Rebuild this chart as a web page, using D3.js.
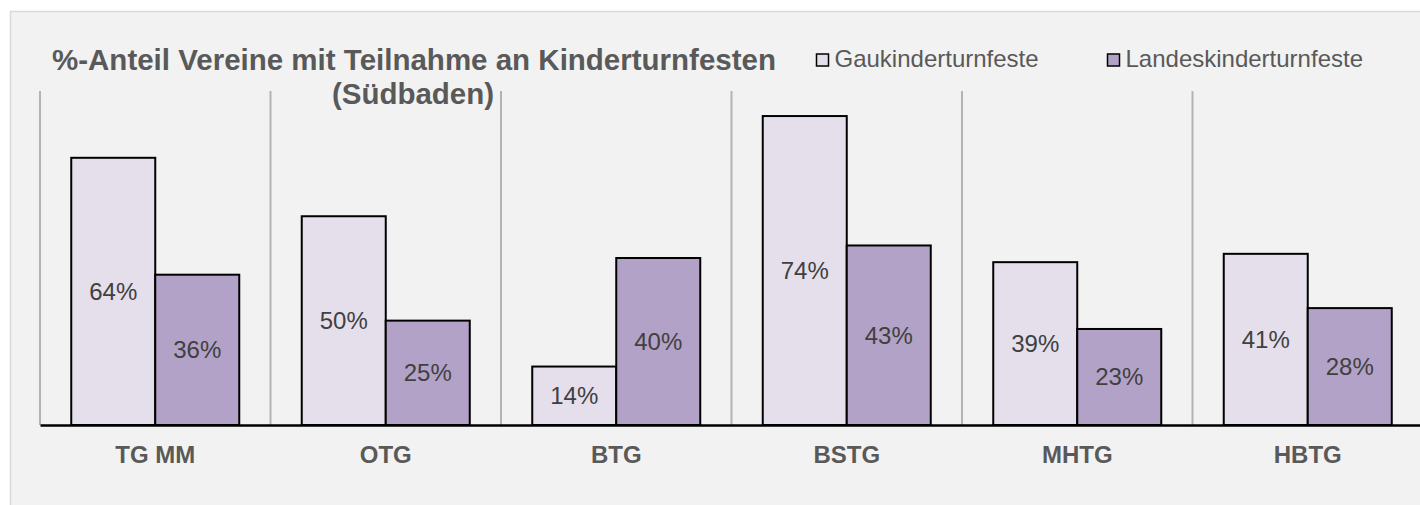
<!DOCTYPE html>
<html>
<head>
    <meta charset="utf-8">
    <title>Kinderturnfeste Südbaden</title>
    <script src="https://cdn.jsdelivr.net/npm/d3@7"></script>
    <style>
        body { margin: 0; background: #ffffff; }
        svg { display: block; }
        .title { font-family: "Liberation Sans", Arial, sans-serif; font-weight: bold; font-size: 29.5px; fill: #595959; }
        .legend text { font-family: "Liberation Sans", Arial, sans-serif; font-size: 24px; fill: #595959; }
        .value { font-family: "Liberation Sans", Arial, sans-serif; font-size: 24px; fill: #404040; }
        .cat { font-family: "Liberation Sans", Arial, sans-serif; font-weight: bold; font-size: 24px; fill: #595959; }
    </style>
</head>
<body>
    <div id="chart"></div>

    <script>
        // data
        var categories = ["TG MM", "OTG", "BTG", "BSTG", "MHTG", "HBTG"];
        var gaukinder = [0.64, 0.50, 0.14, 0.74, 0.39, 0.41];
        var landeskinder = [0.36, 0.25, 0.40, 0.43, 0.23, 0.28];
        var seriesNames = ["Gaukinderturnfeste", "Landeskinderturnfeste"];
        var seriesColors = ["#e5dfec", "#b3a2c7"];

        var width = 1420, height = 505;
        var margin = {top: 91, left: 40, right: -3, bottom: 80};

        var svg = d3.select("#chart").append("svg")
            .attr("width", width)
            .attr("height", height);

        // chart panel
        svg.append("rect")
            .attr("x", 10.5).attr("y", 11.5)
            .attr("width", 1430).attr("height", 520)
            .attr("fill", "#f2f2f2")
            .attr("stroke", "#d9d9d9")
            .attr("stroke-width", 1.5);

        var x0 = d3.scaleBand()
            .domain(categories)
            .range([margin.left, width - margin.right])
            .paddingInner(0)
            .paddingOuter(0);

        var x1 = d3.scaleBand()
            .domain(seriesNames)
            .range([0, x0.bandwidth()])
            .paddingOuter(0.372)
            .paddingInner(0);

        var y = d3.scaleLinear()
            .domain([0, 0.8])
            .range([height - margin.bottom, margin.top]);

        // vertical separators between categories
        var sepX = categories.map(c => x0(c)).concat([x0.range()[1]]);
        svg.append("g").selectAll("line")
            .data(sepX)
            .enter().append("line")
            .attr("x1", d => d).attr("x2", d => d)
            .attr("y1", y(0.8)).attr("y2", y(0))
            .attr("stroke", "#b3b3b3")
            .attr("stroke-width", 2);

        var rows = categories.map((c, i) => ({cat: c, values: [gaukinder[i], landeskinder[i]]}));

        var groups = svg.append("g").selectAll("g")
            .data(rows)
            .enter().append("g")
            .attr("transform", d => "translate(" + x0(d.cat) + ",0)");

        var bars = groups.selectAll("g")
            .data(d => d.values.map((v, j) => ({name: seriesNames[j], value: v, j: j})))
            .enter().append("g");

        bars.append("rect")
            .attr("x", d => x1(d.name))
            .attr("y", d => y(d.value))
            .attr("width", x1.bandwidth())
            .attr("height", d => y(0) - y(d.value))
            .attr("fill", d => seriesColors[d.j])
            .attr("stroke", "#000")
            .attr("stroke-width", 2);

        bars.append("text")
            .attr("class", "value")
            .attr("x", d => x1(d.name) + x1.bandwidth() / 2)
            .attr("y", d => (y(d.value) + y(0)) / 2)
            .attr("dy", "0.35em")
            .attr("text-anchor", "middle")
            .text(d => d3.format(".0%")(d.value));

        // x axis
        var xAxis = svg.append("g")
            .attr("transform", "translate(0," + y(0) + ")")
            .call(d3.axisBottom(x0).tickSize(0).tickPadding(21));
        xAxis.select(".domain").attr("stroke", "#000").attr("stroke-width", 2.5);
        xAxis.selectAll("text").attr("class", "cat").attr("fill", null);

        // title
        var title = svg.append("text")
            .attr("class", "title")
            .attr("text-anchor", "middle");
        title.append("tspan").attr("x", 414).attr("y", 70).text("%-Anteil Vereine mit Teilnahme an Kinderturnfesten");
        title.append("tspan").attr("x", 413).attr("y", 104).text("(Südbaden)");

        // legend
        var legendX = [816, 1107];
        var legend = svg.append("g").attr("class", "legend")
            .selectAll("g")
            .data(seriesNames)
            .enter().append("g")
            .attr("transform", (d, i) => "translate(" + legendX[i] + ",0)");
        legend.append("rect")
            .attr("x", 0.5).attr("y", 54)
            .attr("width", 12).attr("height", 12)
            .attr("fill", (d, i) => seriesColors[i])
            .attr("stroke", "#000")
            .attr("stroke-width", 1.5);
        legend.append("text")
            .attr("x", 18.5)
            .attr("y", 67)
            .text(d => d);
    </script>
</body>
</html>
